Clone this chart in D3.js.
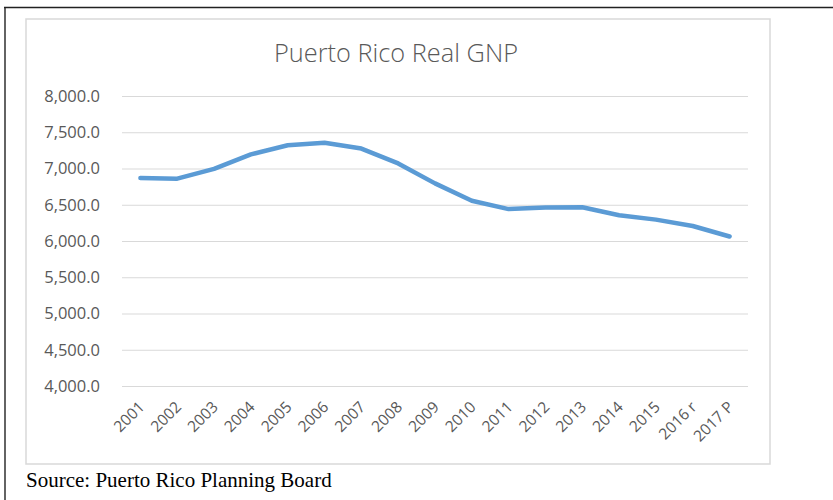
<!DOCTYPE html>
<html>
<head>
<meta charset="utf-8">
<script src="https://cdn.jsdelivr.net/npm/d3@7"></script>
<style>
  html, body { margin: 0; padding: 0; background: #fff; }
  svg { display: block; }
</style>
</head>
<body>
<svg id="chart" width="833" height="500"></svg>
<script>
// Puerto Rico real GNP, fiscal years 2001–2017
const years = ["2001", "2002", "2003", "2004", "2005", "2006", "2007", "2008", "2009",
               "2010", "2011", "2012", "2013", "2014", "2015", "2016 r", "2017 P"];
const gnp = [6870, 6860, 6995, 7195, 7320, 7355, 7275, 7070, 6795,
             6555, 6440, 6462, 6465, 6355, 6295, 6207, 6062];
const yTicks = [4000, 4500, 5000, 5500, 6000, 6500, 7000, 7500, 8000];

const svg = d3.select("#chart");
const W = 833, H = 500;

// page frame (top and left rules)
svg.append("line").attr("x1", 4).attr("x2", W).attr("y1", 7.5).attr("y2", 7.5)
  .attr("stroke", "#222").attr("stroke-width", 1.4);
svg.append("line").attr("x1", 5).attr("x2", 5).attr("y1", 7).attr("y2", H)
  .attr("stroke", "#222").attr("stroke-width", 1.4);

// chart area border
svg.append("rect").attr("x", 26).attr("y", 19).attr("width", 744).attr("height", 445)
  .attr("fill", "#fff").attr("stroke", "#d9d9d9").attr("stroke-width", 1.5);

const plot = { left: 122, right: 748, top: 96, bottom: 386 };

const x = d3.scaleBand().domain(years).range([plot.left, plot.right]);
const y = d3.scaleLinear().domain([4000, 8000]).range([plot.bottom, plot.top]);

// title
svg.append("text")
  .attr("x", 396).attr("y", 62)
  .attr("text-anchor", "middle")
  .attr("font-family", "'Open Sans', sans-serif")
  .attr("font-size", 26)
  .attr("font-weight", 300)
  .attr("fill", "#595959")
  .attr("textLength", 244)
  .attr("lengthAdjust", "spacingAndGlyphs")
  .text("Puerto Rico Real GNP");

// horizontal gridlines with value labels
const yAxis = d3.axisLeft(y).tickValues(yTicks)
  .tickSize(-(plot.right - plot.left))
  .tickPadding(22)
  .tickFormat(d3.format(",.1f"));
const gy = svg.append("g").attr("transform", `translate(${plot.left},0)`).call(yAxis);
gy.select(".domain").remove();
gy.selectAll(".tick line").attr("stroke", "#d9d9d9").attr("stroke-width", 1);
gy.selectAll(".tick text")
  .attr("font-family", "'Open Sans', sans-serif")
  .attr("font-size", 16.5)
  .attr("fill", "#595959");

// category labels, slanted
const xAxis = d3.axisBottom(x).tickSize(0).tickPadding(0);
const gx = svg.append("g").attr("transform", `translate(0,${plot.bottom})`).call(xAxis);
gx.select(".domain").remove();
gx.selectAll(".tick text")
  .attr("font-family", "'Open Sans', sans-serif")
  .attr("font-size", 15.5)
  .attr("fill", "#595959")
  .attr("text-anchor", "end")
  .attr("dy", 0)
  .attr("y", 0)
  .attr("transform", "translate(5,22) rotate(-45)");

// GNP line
const line = d3.line()
  .x((d, i) => x(years[i]) + x.bandwidth() / 2)
  .y(d => y(d));
svg.append("path")
  .datum(gnp)
  .attr("d", line)
  .attr("fill", "none")
  .attr("stroke", "#5b9bd5")
  .attr("stroke-width", 4.5)
  .attr("stroke-linejoin", "round")
  .attr("stroke-linecap", "round");

// source note
svg.append("text")
  .attr("x", 26).attr("y", 487)
  .attr("font-family", "'Liberation Serif', 'Times New Roman', serif")
  .attr("font-size", 21)
  .attr("fill", "#000")
  .text("Source: Puerto Rico Planning Board");
</script>
</body>
</html>
